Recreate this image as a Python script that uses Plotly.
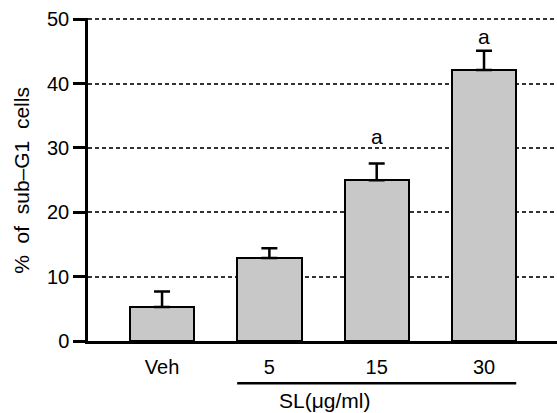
import plotly.graph_objects as go

categories = ["Veh", "5", "15", "30"]
values = [5.3, 12.9, 25.0, 42.1]
errors = [2.4, 1.5, 2.6, 3.0]
sig_labels = ["", "", "a", "a"]
sig_y = [None, None, 31.8, 47.4]
y_ticks = [0, 10, 20, 30, 40, 50]
x_title = "SL(\u03bcg/ml)"
y_title = "%\u00a0 of\u00a0 sub\u2013G1\u00a0 cells"

FONT = "Liberation Sans"

fig = go.Figure()
fig.add_trace(go.Bar(
    x=list(range(len(categories))),
    y=values,
    width=0.6,
    marker=dict(color="#c8c8c8", line=dict(color="black", width=2)),
    error_y=dict(type="data", array=errors, arrayminus=[0] * len(errors),
                 symmetric=False, color="black", thickness=2.5, width=8),
))

for i, (lab, yy) in enumerate(zip(sig_labels, sig_y)):
    if lab:
        fig.add_annotation(x=i, y=yy, text=lab, showarrow=False,
                           font=dict(family=FONT, size=21, color="black"),
                           xanchor="center", yanchor="middle")

fig.add_annotation(xref="paper", yref="paper", x=-0.1407, y=0.496,
                   text=y_title, textangle=-90, showarrow=False,
                   font=dict(family=FONT, size=21, color="black"),
                   xanchor="center", yanchor="middle")
fig.add_annotation(xref="paper", yref="paper", x=0.505, y=-0.185,
                   text=x_title, showarrow=False,
                   font=dict(family=FONT, size=21, color="black"),
                   xanchor="center", yanchor="middle")
fig.add_shape(type="line", xref="x", yref="paper", x0=0.7, x1=3.3,
              y0=-0.131, y1=-0.131, line=dict(color="black", width=2.5))

fig.update_layout(
    width=557, height=413,
    margin=dict(l=88, r=0, t=18, b=72, pad=0),
    paper_bgcolor="white", plot_bgcolor="white",
    showlegend=False,
    bargap=0,
)
fig.update_xaxes(
    range=[-0.69, 3.68],
    tickmode="array", tickvals=list(range(len(categories))), ticktext=categories,
    showline=True, linecolor="black", linewidth=2.5,
    ticks="", showgrid=False, zeroline=False, ticklabelstandoff=6,
    tickfont=dict(family=FONT, size=20, color="black"),
)
fig.update_yaxes(
    range=[0, 50.2],
    tickmode="array", tickvals=y_ticks,
    showline=True, linecolor="black", linewidth=2.5,
    ticks="outside", ticklen=12, tickwidth=2.5, tickcolor="black",
    showgrid=True, gridcolor="#333333", gridwidth=1.5, griddash="4px,3px",
    zeroline=False,
    tickfont=dict(family=FONT, size=20, color="black"),
)

fig.write_html("out.html")
